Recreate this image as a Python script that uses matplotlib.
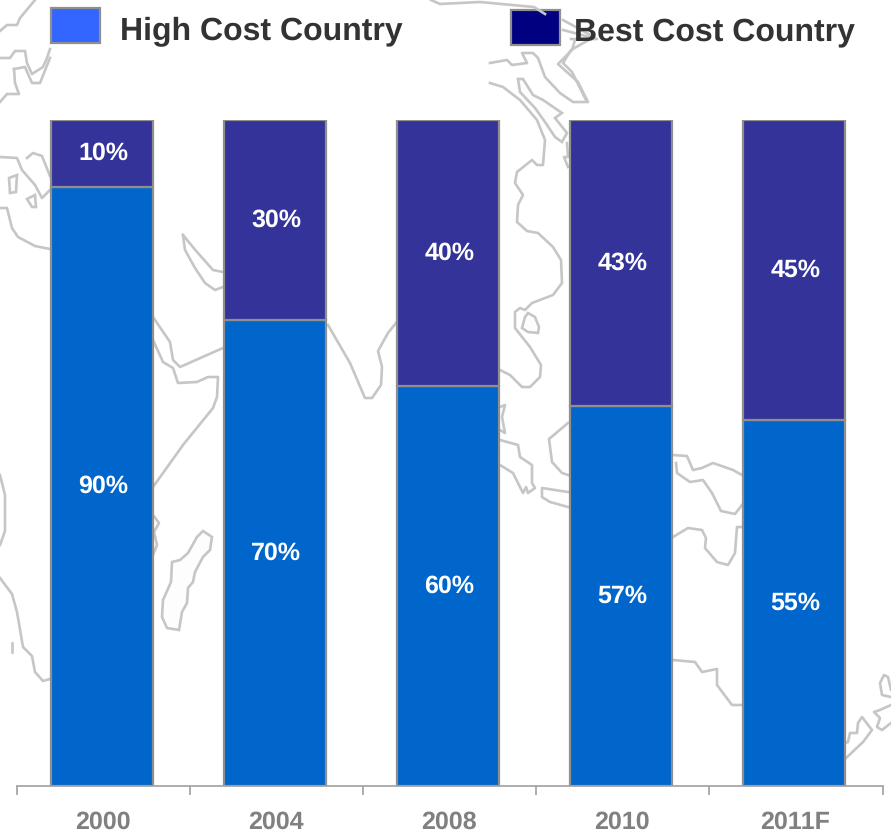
import numpy as np
import matplotlib.pyplot as plt
from matplotlib.patches import Rectangle

plt.rcParams['font.family'] = ['Liberation Sans', 'DejaVu Sans']
plt.rcParams['text.hinting'] = 'no_hinting'
plt.rcParams['text.hinting_factor'] = 1

# data
years = ['2000', '2004', '2008', '2010', '2011F']
high_cost = [90, 70, 60, 57, 55]
best_cost = [10, 30, 40, 43, 45]

# background world map outline, in picture pixels
map_lines = [
    [(35, 0), (20, 18), (17, 25), (7, 25), (0, 31)],
    [(0, 58), (10, 58), (15, 51), (25, 51), (27, 63), (32, 74), (43, 67), (47, 58), (50, 49)],
    [(14, 69), (25, 67), (32, 83), (40, 83), (50, 58)],
    [(14, 69), (15, 83), (19, 94), (7, 94), (0, 102)],
    [(0, 157), (17, 158), (22, 170), (35, 185), (42, 198), (50, 190)],
    [(27, 158), (33, 153), (42, 156), (50, 176)],
    [(0, 208), (7, 208), (12, 228), (18, 237), (35, 246), (50, 249)],
    [(0, 475), (5, 495), (5, 531), (0, 545)],
    [(0, 578), (12, 594), (17, 612), (23, 647), (32, 656), (35, 672), (43, 681), (50, 679)],
    [(12, 643), (12, 652)],
    [(153, 317), (170, 342), (173, 360), (180, 367), (223, 348)],
    [(153, 340), (163, 362), (173, 368), (178, 383), (197, 382), (208, 377), (218, 377),
     (217, 397), (213, 408), (183, 445), (153, 487)],
    [(183, 235), (185, 250), (195, 268), (205, 283), (215, 290), (223, 287)],
    [(183, 235), (197, 252), (213, 270), (223, 272)],
    [(153, 515), (159, 523), (154, 532), (157, 545), (153, 555)],
    [(328, 325), (350, 363), (365, 398), (372, 398), (381, 385), (382, 367), (378, 351),
     (388, 333), (396, 323)],
    [(431, 0), (440, 4), (480, 2), (534, 7), (545, 14)],
    [(563, 20), (594, 37), (571, 50), (563, 63), (572, 72), (586, 100)],
    [(563, 30), (597, 39), (571, 39)],
    [(490, 63), (507, 60), (512, 65), (527, 63), (522, 53), (533, 53), (538, 58), (545, 77),
     (560, 93), (573, 102), (588, 102), (578, 82), (558, 64), (572, 50), (575, 40)],
    [(490, 83), (503, 87), (520, 100), (537, 120), (545, 140), (543, 165), (537, 165),
     (532, 160), (517, 172), (515, 183), (523, 195), (518, 205), (517, 222), (527, 231),
     (538, 233), (553, 247), (561, 260), (562, 283), (553, 295), (532, 303), (525, 310),
     (520, 308), (515, 312), (515, 328), (530, 347), (541, 365), (540, 377), (530, 387),
     (522, 387), (510, 375), (500, 370)],
    [(567, 143), (568, 157), (564, 157), (568, 167)],
    [(500, 407), (505, 405), (502, 417), (505, 433), (500, 430)],
    [(500, 440), (518, 445), (520, 457), (532, 465), (532, 483), (535, 488), (528, 493),
     (526, 487), (523, 493), (513, 473), (500, 465)],
    [(568, 423), (549, 439), (552, 462), (562, 473), (568, 475)],
    [(568, 492), (542, 488), (542, 497), (550, 502), (568, 507)],
    [(673, 455), (687, 456), (693, 470), (702, 468), (713, 463), (733, 470), (742, 475)],
    [(676, 463), (677, 473), (690, 482), (703, 480), (712, 493), (721, 511), (735, 514), (742, 505)],
    [(673, 537), (688, 528), (702, 530), (706, 538), (705, 548), (717, 562), (728, 565),
     (735, 553), (737, 527), (742, 527)],
    [(673, 660), (695, 662), (702, 672), (717, 669), (717, 685), (732, 705), (742, 705)],
    [(845, 759), (863, 742), (872, 730), (862, 717), (858, 723), (857, 733), (850, 733),
     (848, 742), (845, 743)],
    [(891, 697), (882, 695), (880, 683), (884, 675), (888, 677), (891, 690)],
    [(891, 705), (880, 710), (874, 712), (880, 718), (877, 727), (882, 730), (891, 723)],
]
map_islands = [
    [(203, 531), (212, 537), (210, 550), (203, 557), (195, 572), (193, 582), (188, 588),
     (187, 603), (182, 612), (179, 630), (167, 628), (162, 617), (163, 600), (171, 582),
     (172, 562), (180, 560), (188, 553), (197, 537)],
    [(528, 313), (535, 317), (539, 327), (538, 333), (528, 332), (522, 328), (525, 317)],
    [(518, 79), (523, 79), (533, 95), (543, 100), (562, 113), (555, 118), (567, 133),
     (562, 142), (555, 137), (545, 122), (535, 108), (520, 92)],
    [(9, 178), (17, 175), (16, 192), (10, 193)],
    [(27, 199), (35, 195), (36, 207), (32, 207)],
]

map_color = '#c6c6c6'
edge_color = '#8f8f8f'

fig = plt.figure(figsize=(8.91, 8.32), dpi=100)

# picture-sized axes for the map and the legend
bg = fig.add_axes([0, 0, 1, 1], zorder=0)
bg.set_xlim(0, 891)
bg.set_ylim(832, 0)
bg.axis('off')
for line in map_lines:
    xs, ys = zip(*line)
    bg.plot(xs, ys, color=map_color, lw=1.9, solid_joinstyle='round')
for shape in map_islands:
    bg.fill(*zip(*shape), facecolor='#fdfdfd', edgecolor=map_color, lw=1.9)

# legend
bg.add_patch(Rectangle((51, 8), 49, 35, facecolor='#3366ff', edgecolor=edge_color, lw=1.6))
bg.add_patch(Rectangle((511, 10), 49, 35, facecolor='#000080', edgecolor=edge_color, lw=1.6))
bg.text(120, 39, 'High Cost Country', fontsize=23, fontweight='bold', color='#333333', va='baseline')
bg.text(574, 40, 'Best Cost Country', fontsize=23, fontweight='bold', color='#333333', va='baseline')

# chart
ax = fig.add_axes([17 / 891, (832 - 786) / 832, 866 / 891, 666 / 832], zorder=1)
ax.patch.set_alpha(0)
x = np.arange(len(years))
ax.bar(x, high_cost, width=0.59, color='#0066cc', edgecolor=edge_color, lw=1.6)
ax.bar(x, best_cost, width=0.59, bottom=high_cost, color='#333399', edgecolor=edge_color, lw=1.6)

for i in x:
    ax.text(i + 0.008, high_cost[i] / 2, f'{high_cost[i]}%', color='white', fontsize=18,
            fontweight='bold', ha='center', va='center')
    ax.text(i + 0.008, high_cost[i] + best_cost[i] / 2, f'{best_cost[i]}%', color='white', fontsize=18,
            fontweight='bold', ha='center', va='center')

ax.set_xlim(-0.491, 4.513)
ax.set_ylim(0, 100)
ax.set_yticks([])
ax.set_xticks(list(x - 0.491) + [4.513])
ax.set_xticklabels([''] * 6)
ax.tick_params(axis='x', length=6.5, width=1.2, color='#a0a0a0')
for i, year in enumerate(years):
    ax.text(i + 0.004, -6.4, year, color='#808080', fontsize=18, fontweight='bold',
            ha='center', va='baseline', clip_on=False)
for side in ['top', 'left', 'right']:
    ax.spines[side].set_visible(False)
ax.spines['bottom'].set_color('#a0a0a0')
ax.spines['bottom'].set_linewidth(1.2)

fig.savefig('out.png', dpi=100)
